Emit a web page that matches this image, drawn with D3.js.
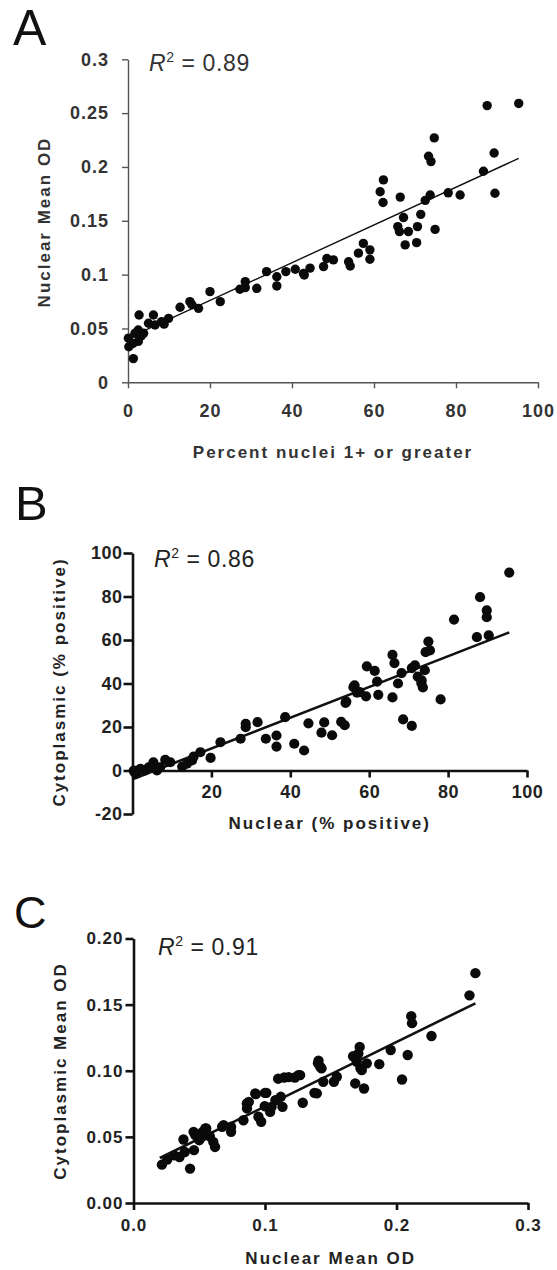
<!DOCTYPE html>
<html>
<head>
<meta charset="utf-8">
<script src="https://cdnjs.cloudflare.com/ajax/libs/d3/7.8.5/d3.min.js"></script>
<style>
body { margin: 0; background: #fff; }
svg { display: block; font-family: "Liberation Sans", Arial, sans-serif; }
</style>
</head>
<body>
<svg id="fig" width="557" height="1270"></svg>
<script>
// Panel A: percent nuclei 1+ vs nuclear mean OD
var ptsA = [
  [0.2,0.033],[1.3,0.022],[0.1,0.041],[1.7,0.0455],[2.5,0.0486],[2.5,0.038],[2.7,0.0625],
  [1.2,0.036],[3.8,0.0455],[3.2,0.043],[5,0.0548],[6.2,0.0625],[6.6,0.0532],[8.2,0.0563],
  [9.9,0.0594],[8.8,0.054],[12.7,0.0697],[15.1,0.0749],[15.6,0.072],[17.2,0.0687],[20,0.0842],
  [22.5,0.0749],[27.3,0.0864],[28.6,0.0935],[28.6,0.088],[31.4,0.0873],[33.8,0.1028],
  [36.3,0.098],[36.3,0.0895],[38.5,0.1028],[40.8,0.105],[43,0.0997],[44.4,0.106],[42.8,0.101],
  [47.7,0.1075],[48.5,0.115],[50.1,0.1137],[53.8,0.112],[54.2,0.108],[56.2,0.12],[57.4,0.129],
  [59,0.123],[59,0.1143],[61.5,0.177],[62.3,0.188],[62.2,0.167],[65.8,0.1446],[66.2,0.14],
  [66.4,0.172],[67.2,0.153],[67.6,0.1276],[68.4,0.14],[70.6,0.1446],[70.4,0.1297],[71.4,0.156],
  [72.5,0.169],[73.7,0.174],[74.9,0.142],[78.1,0.176],[81,0.174],[89.5,0.1756],
  [74.7,0.227],[73.3,0.21],[73.9,0.205],[87.6,0.257],[95.3,0.259],[89.3,0.213],[86.7,0.196]
];
var fitA = [[0, 0.041], [95.3, 0.208]];
var xTicksA = [0, 20, 40, 60, 80, 100];
var yTicksA = [0, 0.05, 0.1, 0.15, 0.2, 0.25, 0.3];
var yLabelsA = ["0", "0.05", "0.1", "0.15", "0.2", "0.25", "0.3"];

// Panel B: nuclear vs cytoplasmic % positive
var ptsB = [
  [0.3,0],[2,0.8],[3.2,0],[4.1,1.5],[5.3,3.8],[6.2,0],[7,1.5],[8.3,4.9],[9.6,3.8],[1,-1.5],
  [0.5,-0.8],[12.6,1.8],[13.8,3.1],[15.1,4.6],[15.5,6.4],[17.2,8.4],[19.8,5.8],[22.3,13],
  [27.4,14.6],[28.7,19.9],[28.7,21.5],[31.7,22.2],[33.8,14.6],[36.5,16.1],[36.5,11],[38.7,24.5],
  [41,12.3],[43.5,9.2],[44.6,21.7],[47.9,17.4],[48.6,22.1],[50.6,16.2],[52.9,22.4],[53.8,20.8],
  [54,31.1],[54.2,31.7],[56,38.3],[56.3,39.1],[56.9,35.8],[57.6,36],[59.2,34.1],[59.4,47.9],
  [61.4,45.8],[62,40.9],[62.3,34.8],[65.9,33.6],[65.9,53.2],[66.4,49.4],[67.3,40],[68.2,44.8],
  [68.6,23.5],[70.8,20.5],[70.8,47.1],[71.6,48.3],[72.3,43.2],[73.2,40.2],[73.3,41.4],
  [73.6,38.2],[74.1,46.1],[74.3,54.4],[75,59.3],[75.4,55.2],[78.1,32.7],[81.5,69.4],
  [87.3,61.3],[88.1,79.7],[89.8,73.6],[89.8,70.5],[90.3,62.1],[95.5,91]
];
var fitB = [[0, -4], [95.5, 63.5]];
var xTicksB = [0, 20, 40, 60, 80, 100];
var yTicksB = [-20, 0, 20, 40, 60, 80, 100];

// Panel C: nuclear vs cytoplasmic mean OD
var ptsC = [
  [0.0216,0.029],[0.043,0.026],[0.0256,0.0328],[0.031,0.036],[0.035,0.0348],[0.039,0.0386],
  [0.038,0.048],[0.046,0.040],[0.047,0.0513],[0.0526,0.0538],[0.0553,0.0563],[0.05,0.0475],
  [0.058,0.0505],[0.0607,0.0462],[0.062,0.0424],[0.0674,0.0576],[0.0742,0.0576],[0.0742,0.0538],
  [0.0836,0.0626],[0.0863,0.0715],[0.0877,0.0765],[0.093,0.0823],[0.0971,0.0614],[0.0998,0.0732],
  [0.101,0.0833],[0.1039,0.0689],[0.1079,0.0778],[0.112,0.0803],[0.1133,0.0727],[0.1146,0.0949],
  [0.1227,0.0949],[0.1254,0.0967],[0.1287,0.0758],[0.1376,0.0833],[0.1403,0.1056],[0.143,0.1018],
  [0.1443,0.0917],[0.1524,0.0917],[0.167,0.111],[0.1686,0.0904],[0.1726,0.1018],[0.1753,0.0866],
  [0.1869,0.105],[0.1956,0.1157],[0.2042,0.0934],[0.2085,0.1119],[0.26,0.1738],[0.2555,0.157],
  [0.2266,0.1263],[0.2112,0.1413],[0.2118,0.136],[0.172,0.118],[0.171,0.113],[0.1698,0.1068],
  [0.1774,0.1056],[0.1736,0.1005],[0.0457,0.0538],[0.0546,0.0563],[0.052,0.05],[0.0685,0.0589],
  [0.0926,0.0829],[0.095,0.0652],[0.105,0.0727],[0.109,0.0778],[0.110,0.094],[0.1267,0.0967],
  [0.118,0.0952],[0.1,0.0833],[0.1407,0.1076],[0.142,0.103],[0.1546,0.0955],[0.1394,0.0829],
  [0.0862,0.0753]
];
var fitC = [[0.02, 0.034], [0.26, 0.151]];
var xTicksC = [0, 0.1, 0.2, 0.3];
var yTicksC = [0, 0.05, 0.1, 0.15, 0.2];

var svg = d3.select("#fig");

// draws one scatter panel with its fit line
function drawPanel(p) {
  var g = svg.append("g");
  var x = d3.scaleLinear().domain(p.xDomain).range(p.xRange);
  var y = d3.scaleLinear().domain(p.yDomain).range(p.yRange);

  // panel letter
  g.append("text")
    .attr("x", p.letterPos[0]).attr("y", p.letterPos[1])
    .attr("font-size", p.letterSize).attr("fill", "#111")
    .text(p.letter);

  var xAxis = d3.axisBottom(x).tickValues(p.xTicks).tickFormat(p.xFormat)
    .tickSize(p.xTickLen).tickSizeOuter(0).tickPadding(p.xPad);
  var yAxis = d3.axisLeft(y).tickValues(p.yTicks).tickFormat(p.yFormat)
    .tickSize(p.yTickLen).tickSizeOuter(0).tickPadding(p.yPad);

  var gx = g.append("g").attr("transform", "translate(0," + y(p.xAxisAt) + ")").call(xAxis);
  var gy = g.append("g").attr("transform", "translate(" + x(p.xDomain[0]) + ",0)").call(yAxis);

  [gx, gy].forEach(function(a) {
    a.select(".domain").attr("stroke", p.axisColor).attr("stroke-width", p.axisWidth);
    a.selectAll(".tick line").attr("stroke", p.axisColor).attr("stroke-width", p.axisWidth);
    a.selectAll(".tick text")
      .attr("font-family", "Liberation Sans, Arial, sans-serif")
      .attr("font-size", p.tickFont).attr("font-weight", "bold")
      .attr("letter-spacing", p.tickSpacing).attr("fill", p.textColor);
  });

  // axis titles
  g.append("text")
    .attr("x", (p.xRange[0] + p.xRange[1]) / 2).attr("y", p.xTitleY)
    .attr("text-anchor", "middle").attr("font-size", 17).attr("font-weight", "bold")
    .attr("letter-spacing", 2).attr("fill", p.textColor)
    .text(p.xTitle);
  g.append("text")
    .attr("transform", "translate(" + p.yTitleX + "," + p.yTitleY + ") rotate(-90)")
    .attr("text-anchor", "middle").attr("font-size", 17).attr("font-weight", "bold")
    .attr("letter-spacing", 2).attr("fill", p.textColor)
    .text(p.yTitle);

  // R squared
  var r2 = g.append("text")
    .attr("x", p.r2Pos[0]).attr("y", p.r2Pos[1])
    .attr("font-size", 23).attr("letter-spacing", 0.6).attr("fill", p.r2Color);
  r2.append("tspan").attr("font-style", "italic").text("R");
  r2.append("tspan").attr("font-size", 14).attr("dy", -9).text("2");
  r2.append("tspan").attr("dy", 9).text(" = " + p.r2);

  // fit line
  var line = d3.line().x(function(d) { return x(d[0]); }).y(function(d) { return y(d[1]); });
  g.append("path").datum(p.fit)
    .attr("d", line).attr("fill", "none")
    .attr("stroke", "#111").attr("stroke-width", p.fitWidth);

  // points
  g.selectAll("circle.pt").data(p.pts).enter().append("circle")
    .attr("class", "pt")
    .attr("cx", function(d) { return x(d[0]); })
    .attr("cy", function(d) { return y(d[1]); })
    .attr("r", p.radius).attr("fill", "#0a0a0a");
}

drawPanel({
  letter: "A", letterPos: [13, 45], letterSize: 50,
  pts: ptsA, fit: fitA, fitWidth: 1.4, radius: 4.7,
  xDomain: [0, 100], xRange: [128, 538],
  yDomain: [0, 0.3], yRange: [382.3, 59.3],
  xTicks: xTicksA, yTicks: yTicksA, xAxisAt: 0,
  xFormat: function(d) { return d; },
  yFormat: function(d, i) { return yLabelsA[i]; },
  xTickLen: 6, xPad: 16, yTickLen: 6, yPad: 13,
  axisColor: "#555", axisWidth: 1.4, tickFont: 18, tickSpacing: 1, textColor: "#333",
  xTitle: "Percent nuclei 1+ or greater", xTitleY: 458,
  yTitle: "Nuclear Mean OD", yTitleX: 50, yTitleY: 222,
  r2: "0.89", r2Pos: [149, 71], r2Color: "#333"
});

drawPanel({
  letter: "B", letterPos: [15, 520], letterSize: 49,
  pts: ptsB, fit: fitB, fitWidth: 2.6, radius: 5.1,
  xDomain: [0, 100], xRange: [132.5, 527],
  yDomain: [-20, 100], yRange: [814, 553],
  xTicks: xTicksB, yTicks: yTicksB, xAxisAt: 0,
  xFormat: function(d) { return d === 0 ? "" : d; },
  yFormat: function(d) { return d; },
  xTickLen: 7, xPad: 8, yTickLen: 9, yPad: 1,
  axisColor: "#111", axisWidth: 2.6, tickFont: 18, tickSpacing: 0.5, textColor: "#222",
  xTitle: "Nuclear (% positive)", xTitleY: 829,
  yTitle: "Cytoplasmic (% positive)", yTitleX: 65, yTitleY: 682,
  r2: "0.86", r2Pos: [154, 567], r2Color: "#222"
});

drawPanel({
  letter: "C", letterPos: [14, 928], letterSize: 45,
  pts: ptsC, fit: fitC, fitWidth: 2.6, radius: 5.2,
  xDomain: [0, 0.3], xRange: [133.5, 528],
  yDomain: [0, 0.2], yRange: [1203, 938.5],
  xTicks: xTicksC, yTicks: yTicksC, xAxisAt: 0,
  xFormat: d3.format(".1f"),
  yFormat: d3.format(".2f"),
  xTickLen: 7, xPad: 9, yTickLen: 8, yPad: 2,
  axisColor: "#111", axisWidth: 2.6, tickFont: 17, tickSpacing: 1, textColor: "#222",
  xTitle: "Nuclear Mean OD", xTitleY: 1264,
  yTitle: "Cytoplasmic Mean OD", yTitleX: 66, yTitleY: 1071,
  r2: "0.91", r2Pos: [158, 955], r2Color: "#222"
});
</script>
</body>
</html>
